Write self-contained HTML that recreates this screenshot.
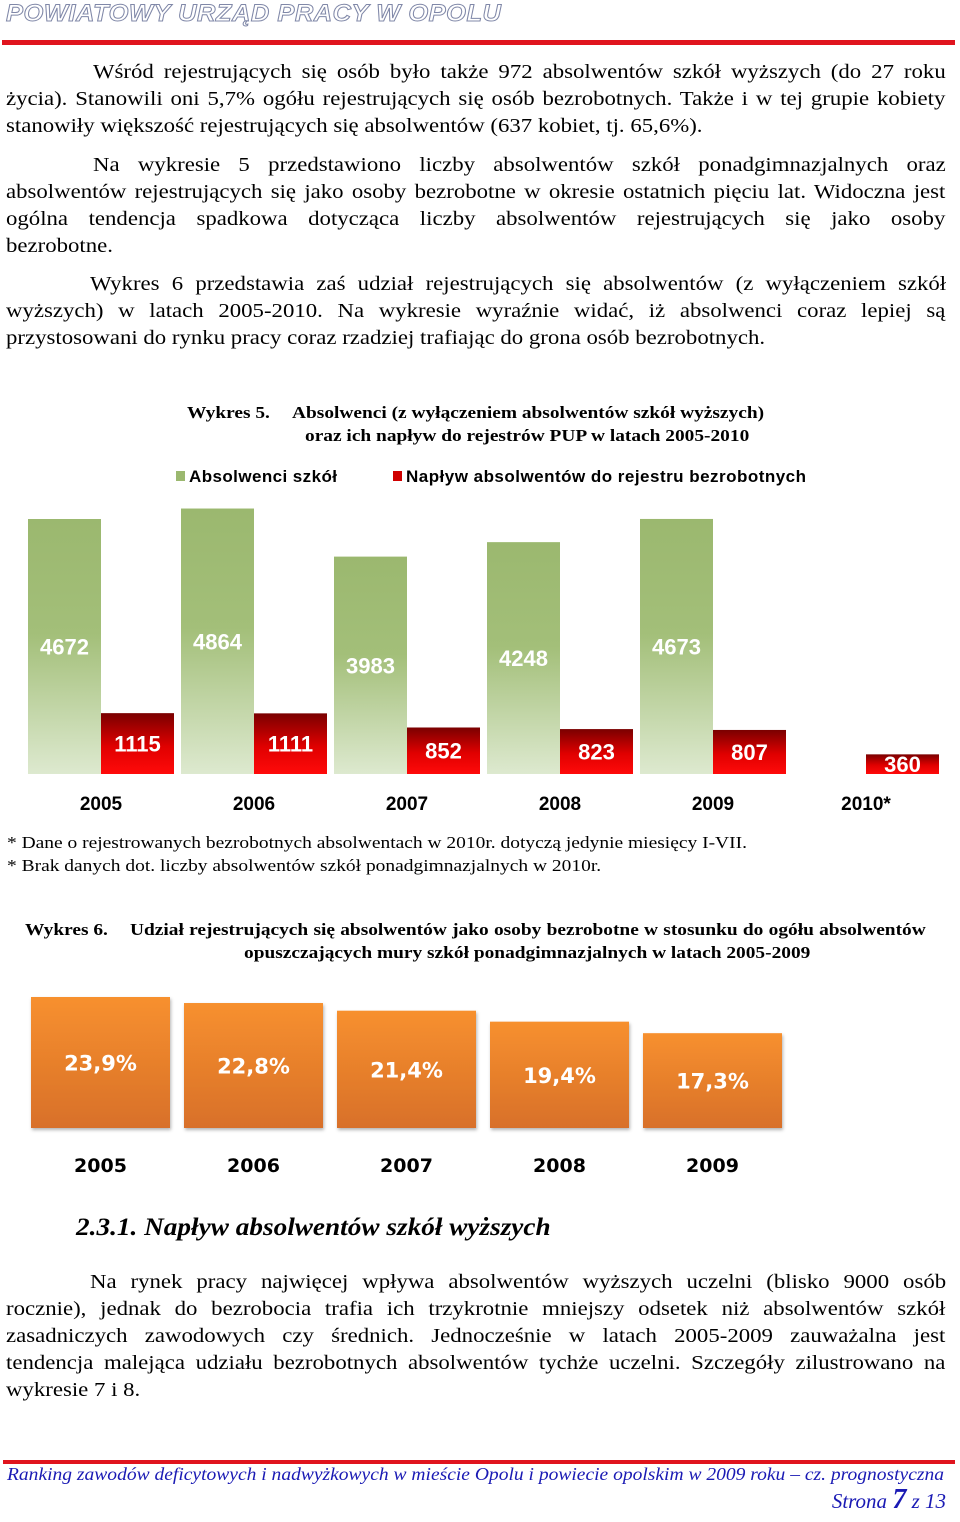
<!DOCTYPE html>
<html><head><meta charset="utf-8">
<style>
html,body{margin:0;padding:0;background:#fff;}
body{width:960px;height:1522px;position:relative;overflow:hidden;font-family:"Liberation Serif",serif;color:#000;}
.l{position:absolute;left:6px;width:824px;font-size:20px;line-height:26px;white-space:nowrap;transform:scaleX(1.14);transform-origin:0 0;}
.j{text-align:justify;text-align-last:justify;white-space:normal;}
.t{position:absolute;font-weight:bold;font-size:17px;white-space:nowrap;transform:scaleX(1.14);transform-origin:0 0;}
.f{position:absolute;left:7px;font-size:17px;white-space:nowrap;transform:scaleX(1.145);transform-origin:0 0;}
</style></head>
<body>
<div style="position:absolute;left:6px;top:0px;font:italic bold 24px 'Liberation Sans',sans-serif;color:#fff;-webkit-text-stroke:1px #8088a8;letter-spacing:0.5px;transform:scaleX(1.06);transform-origin:0 0;">POWIATOWY URZĄD PRACY W OPOLU</div>
<div style="position:absolute;left:2px;top:40px;width:953px;height:5px;background:#e0141e;"></div>

<div>
<div class="l j" style="top:59px;left:93px;width:748px;">Wśród rejestrujących się osób było także 972 absolwentów szkół wyższych (do 27 roku</div>
<div class="l j" style="top:86px;">życia). Stanowili oni 5,7% ogółu rejestrujących się osób bezrobotnych. Także i w tej grupie kobiety</div>
<div class="l" style="top:113px;">stanowiły większość rejestrujących się absolwentów (637 kobiet, tj. 65,6%).</div>
</div>
<div>
<div class="l j" style="top:152px;left:93px;width:748px;">Na wykresie 5 przedstawiono liczby absolwentów szkół ponadgimnazjalnych oraz</div>
<div class="l j" style="top:179px;">absolwentów rejestrujących się jako osoby bezrobotne w okresie ostatnich pięciu lat. Widoczna jest</div>
<div class="l j" style="top:206px;">ogólna tendencja spadkowa dotycząca liczby absolwentów rejestrujących się jako osoby</div>
<div class="l" style="top:233px;">bezrobotne.</div>
</div>
<div>
<div class="l j" style="top:271px;left:90px;width:751px;">Wykres 6 przedstawia zaś udział rejestrujących się absolwentów (z wyłączeniem szkół</div>
<div class="l j" style="top:298px;">wyższych) w latach 2005-2010. Na wykresie wyraźnie widać, iż absolwenci coraz lepiej są</div>
<div class="l" style="top:325px;">przystosowani do rynku pracy coraz rzadziej trafiając do grona osób bezrobotnych.</div>
</div>

<div class="t" style="left:187px;top:403px;">Wykres 5.</div>
<div class="t" style="left:292px;top:403px;">Absolwenci (z wyłączeniem absolwentów szkół wyższych)</div>
<div class="t" style="left:305px;top:426px;">oraz ich napływ do rejestrów PUP w latach 2005-2010</div>

<svg id="c5" style="position:absolute;left:0;top:450px;" width="960" height="370" viewBox="0 450 960 370">
<defs>
<linearGradient id="gg" x1="0" y1="0" x2="0" y2="1"><stop offset="0" stop-color="#9bb86f"/><stop offset="0.45" stop-color="#a3bf79"/><stop offset="1" stop-color="#dde9cf"/></linearGradient>
<linearGradient id="rg" x1="0" y1="0" x2="0" y2="1"><stop offset="0" stop-color="#7a0000"/><stop offset="0.55" stop-color="#e00000"/><stop offset="1" stop-color="#ff0a0a"/></linearGradient>
</defs>
<g>
<rect x="176" y="471" width="9" height="10" fill="#9bb86f"/>
<text x="189" y="482" font-family="Liberation Sans, sans-serif" font-weight="bold" font-size="17" textLength="148">Absolwenci szkół</text>
<rect x="393" y="471" width="9" height="10" fill="#d00000"/>
<text x="406" y="482" font-family="Liberation Sans, sans-serif" font-weight="bold" font-size="17" textLength="400">Napływ absolwentów do rejestru bezrobotnych</text>
</g>
<g id="c5bars"></g>
</svg>

<div class="f" style="top:833px;">* Dane o rejestrowanych bezrobotnych absolwentach w 2010r. dotyczą jedynie miesięcy I-VII.</div>
<div class="f" style="top:856px;">* Brak danych dot. liczby absolwentów szkół ponadgimnazjalnych w 2010r.</div>

<div class="t" style="left:25px;top:920px;">Wykres 6.</div>
<div class="t" style="left:130px;top:920px;width:698px;white-space:normal;text-align:justify;text-align-last:justify;">Udział rejestrujących się absolwentów jako osoby bezrobotne w stosunku do ogółu absolwentów</div>
<div class="t" style="left:244px;top:943px;">opuszczających mury szkół ponadgimnazjalnych w latach 2005-2009</div>

<svg id="c6" style="position:absolute;left:0;top:980px;" width="960" height="210" viewBox="0 980 960 210">
<defs>
<linearGradient id="og" x1="0" y1="0" x2="0" y2="1"><stop offset="0" stop-color="#f7902e"/><stop offset="1" stop-color="#d8702a"/></linearGradient>
<filter id="sh" x="-5%" y="-5%" width="112%" height="115%"><feDropShadow dx="1" dy="2" stdDeviation="1.5" flood-color="#000" flood-opacity="0.3"/></filter>
</defs>
<g id="c6bars"></g>
</svg>

<div style="position:absolute;left:76px;top:1214px;font:italic bold 25px 'Liberation Serif',serif;transform:scaleX(1.09);transform-origin:0 0;white-space:nowrap;">2.3.1. Napływ absolwentów szkół wyższych</div>
<div>
<div class="l j" style="top:1269px;left:90px;width:751px;">Na rynek pracy najwięcej wpływa absolwentów wyższych uczelni (blisko 9000 osób</div>
<div class="l j" style="top:1296px;">rocznie), jednak do bezrobocia trafia ich trzykrotnie mniejszy odsetek niż absolwentów szkół</div>
<div class="l j" style="top:1323px;">zasadniczych zawodowych czy średnich. Jednocześnie w latach 2005-2009 zauważalna jest</div>
<div class="l j" style="top:1350px;">tendencja malejąca udziału bezrobotnych absolwentów tychże uczelni. Szczegóły zilustrowano na</div>
<div class="l" style="top:1377px;">wykresie 7 i 8.</div>
</div>

<div style="position:absolute;left:3px;top:1460px;width:952px;height:4px;background:#e0141e;"></div>
<svg style="position:absolute;left:0;top:1462px;" width="960" height="24"><text x="7" y="18" font-family="Liberation Serif, serif" font-style="italic" font-size="18" fill="#1a1ab4" textLength="937" lengthAdjust="spacingAndGlyphs">Ranking zawodów deficytowych i nadwyżkowych w mieście Opolu i powiecie opolskim w 2009 roku – cz. prognostyczna</text></svg>
<div style="position:absolute;right:14px;top:1484px;font:italic 21px 'Liberation Serif',serif;color:#1a1ab4;white-space:nowrap;">Strona <span style="font-size:28px;font-weight:bold;">7</span> z 13</div>

<script>
const years5 = ["2005","2006","2007","2008","2009","2010*"];
const graduates = [4672, 4864, 3983, 4248, 4673, null];
const inflow = [1115, 1111, 852, 823, 807, 360];
const years6 = ["2005","2006","2007","2008","2009"];
const shares = [23.9, 22.8, 21.4, 19.4, 17.3];
const shareLabels = ["23,9%","22,8%","21,4%","19,4%","17,3%"];

const NS = "http://www.w3.org/2000/svg";
function mk(tag, attrs, parent){const e=document.createElementNS(NS,tag);for(const k in attrs)e.setAttribute(k,attrs[k]);parent.appendChild(e);return e;}

const base5 = 774, k5 = 255/4672;
const y5 = v => base5 - v*k5;
const x5 = i => 28 + i*153;
const bw5 = 73;
const g5 = document.getElementById("c5bars");
years5.forEach((yr,i)=>{
  const x = x5(i);
  if (graduates[i] != null) {
    const r = mk("rect",{x:x,y:y5(graduates[i]),width:bw5,height:base5-y5(graduates[i]),fill:"url(#gg)"},g5);
    
    
    const t = mk("text",{x:x+bw5/2,y:(y5(graduates[i])+base5)/2+8,"text-anchor":"middle","font-family":"Liberation Sans, sans-serif","font-weight":"bold","font-size":"22",fill:"#fff"},g5);
    t.textContent = graduates[i];
    
    
  }
  const r2 = mk("rect",{x:x+bw5,y:y5(inflow[i]),width:bw5,height:base5-y5(inflow[i]),fill:"url(#rg)"},g5);
  
  
  const t2 = mk("text",{x:x+bw5*1.5,y:Math.min((y5(inflow[i])+base5)/2+8, base5+1),"text-anchor":"middle","font-family":"Liberation Sans, sans-serif","font-weight":"bold","font-size":"22",fill:"#fff"},g5);
  t2.textContent = inflow[i];
  
  
  const lb = mk("text",{x:x+bw5,y:810,"text-anchor":"middle","font-family":"Liberation Sans, sans-serif","font-weight":"bold","font-size":"19"},g5);
  lb.textContent = yr;
  
  
});

const base6 = 1128, k6 = 131/23.9;
const y6 = v => base6 - v*k6;
const x6 = i => 31 + i*153;
const bw6 = 139;
const g6 = document.getElementById("c6bars");
years6.forEach((yr,i)=>{
  const x = x6(i);
  const r = mk("rect",{x:x,y:y6(shares[i]),width:bw6,height:base6-y6(shares[i]),fill:"url(#og)",filter:"url(#sh)"},g6);
  
  
  const t = mk("text",{x:x+bw6/2,y:(y6(shares[i])+base6)/2+8,"text-anchor":"middle","font-family":"DejaVu Sans, sans-serif","font-weight":"bold","font-size":"21",fill:"#fff"},g6);
  t.textContent = shareLabels[i];
  
  
  const lb = mk("text",{x:x+bw6/2,y:1172,"text-anchor":"middle","font-family":"DejaVu Sans, sans-serif","font-weight":"bold","font-size":"19"},g6);
  lb.textContent = yr;
  
  
});
</script>
</body></html>
